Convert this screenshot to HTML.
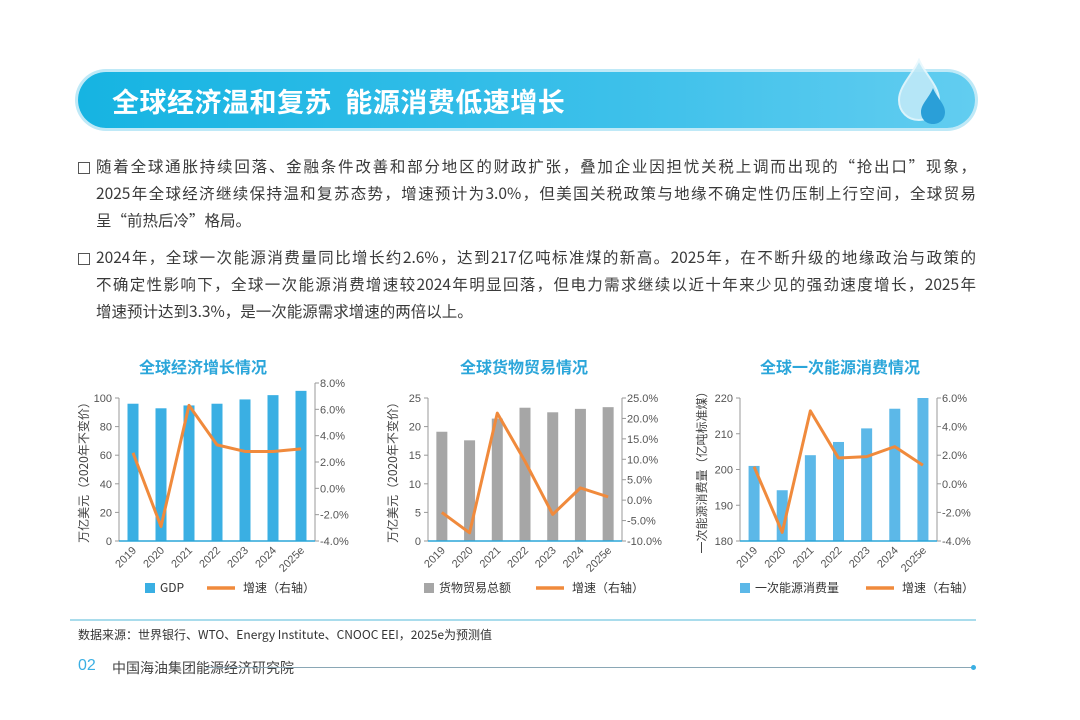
<!DOCTYPE html>
<html><head><meta charset="utf-8">
<style>
body{margin:0;background:#fff;}
#page{position:relative;width:1080px;height:720px;overflow:hidden;background:#fff;font-family:"Liberation Sans","Noto Sans CJK SC",sans-serif;}
.banner{position:absolute;left:78px;top:72px;width:897px;height:56px;border-radius:28px;background:linear-gradient(90deg,#16b4e2,#3cc0ea 60%,#62cdf0);box-shadow:0 0 0 3px #bfe9f7;}
.banner-title{position:absolute;left:112px;top:81px;font-size:27px;font-weight:bold;color:#fff;letter-spacing:0.5px;font-family:"Noto Sans CJK SC",sans-serif;}
.para{position:absolute;left:96px;width:880px;font-size:15.5px;color:#3a3a3a;font-family:"Noto Sans CJK SC",sans-serif;}
.line{display:block;height:27px;line-height:27px;white-space:nowrap;}
.j{text-align:justify;text-align-last:justify;white-space:normal;overflow:hidden;}
.box{position:absolute;left:78px;width:10px;height:10px;border:1px solid #555;}
.src{position:absolute;left:78px;top:626px;font-size:12px;color:#333;font-family:"Noto Sans CJK SC",sans-serif;}
.pg{position:absolute;left:78px;top:657px;font-size:16px;color:#3aafe3;}
.org{position:absolute;left:112px;top:658px;font-size:14px;color:#444;font-family:"Noto Sans CJK SC",sans-serif;}
</style></head><body>
<div id="page">
<div class="banner"></div>
<div class="banner-title">全球经济温和复苏&nbsp;&nbsp;能源消费低速增长</div>
<svg style="position:absolute;left:895px;top:58px" width="60" height="68">
<path d="M24 2 C30 16 44 28 44 42 C44 54 35 62 24 62 C13 62 4 54 4 42 C4 28 18 16 24 2Z" fill="#bfe9f8" stroke="#e8f8fd" stroke-width="2" opacity="0.9"/>
<path d="M38 30 C42 40 50 46 50 54 C50 61 45 66 38 66 C31 66 26 61 26 54 C26 46 34 40 38 30Z" fill="#2a9fd8"/>
</svg>

<div class="box" style="top:162px"></div>
<div class="para" style="top:153px">
<span class="line j">随着全球通胀持续回落、金融条件改善和部分地区的财政扩张，叠加企业因担忧关税上调而出现的“抢出口”现象，</span>
<span class="line j">2025年全球经济继续保持温和复苏态势，增速预计为3.0%，但美国关税政策与地缘不确定性仍压制上行空间，全球贸易</span>
<span class="line">呈“前热后冷”格局。</span>
</div>
<div class="box" style="top:253px"></div>
<div class="para" style="top:244px">
<span class="line j">2024年，全球一次能源消费量同比增长约2.6%，达到217亿吨标准煤的新高。2025年，在不断升级的地缘政治与政策的</span>
<span class="line j">不确定性影响下，全球一次能源消费增速较2024年明显回落，但电力需求继续以近十年来少见的强劲速度增长，2025年</span>
<span class="line">增速预计达到3.3%，是一次能源需求增速的两倍以上。</span>
</div>

<svg id="charts" style="position:absolute;left:0;top:0" width="1080" height="720"></svg>

<div style="position:absolute;left:70px;top:619px;width:906px;height:2px;background:#a9dcec"></div>
<div class="src">数据来源：世界银行、WTO、Energy Institute、CNOOC EEI，2025e为预测值</div>
<div class="pg">02</div>
<div class="org">中国海油集团能源经济研究院</div>
<div style="position:absolute;left:206px;top:667px;width:766px;height:1px;background:#8aa7b5"></div>
<div style="position:absolute;left:971px;top:665px;width:5px;height:5px;border-radius:50%;background:#3aafe3"></div>
</div>
<script>
const years = ["2019","2020","2021","2022","2023","2024","2025e"];
const gdpValues = [96, 92.8, 94.8, 96, 99, 102, 105];
const gdpGrowth = [2.7, -2.9, 6.3, 3.3, 2.8, 2.8, 3.0];
const tradeValues = [19.1, 17.6, 21.4, 23.3, 22.5, 23.1, 23.4];
const tradeGrowth = [-3.0, -8.0, 21.3, 9.5, -3.5, 3.0, 0.8];
const energyValues = [201, 194.2, 204, 207.7, 211.5, 217, 220];
const energyGrowth = [1.2, -3.4, 5.1, 1.8, 1.9, 2.6, 1.3];
const gdpLeftTicks = [0,20,40,60,80,100];
const gdpRightTicks = [-4,-2,0,2,4,6,8];
const tradeLeftTicks = [0,5,10,15,20,25];
const tradeRightTicks = [-10,-5,0,5,10,15,20,25];
const energyLeftTicks = [180,190,200,210,220];
const energyRightTicks = [-4,-2,0,2,4,6];

const NS="http://www.w3.org/2000/svg";
const svg=document.getElementById('charts');
function mk(tag,attrs,parent){const e=document.createElementNS(NS,tag);for(const k in attrs)e.setAttribute(k,attrs[k]);(parent||svg).appendChild(e);return e;}

function chart(cfg){
  const g=mk('g',{});
  
  
  const {x0,x1,yBottom,cats,vals,growth,lmin,lmax,ltop,rmin,rmax,rtop}=cfg;
  const yL=v=>yBottom-(v-lmin)/(lmax-lmin)*(yBottom-ltop);
  const yR=v=>yBottom-(v-rmin)/(rmax-rmin)*(yBottom-rtop);
  const step=(x1-x0)/cats.length;
  const xC=i=>x0+step*(i+0.5);
  // title
  const t=mk('text',{x:cfg.tx,y:373,'text-anchor':'middle','font-size':16,'font-weight':'bold',fill:'#2ba6da','font-family':'Noto Sans CJK SC, sans-serif'},g);t.textContent=cfg.title;
  
  // bars
  vals.forEach((v,i)=>{const b=mk('rect',{x:xC(i)-5.5,y:yL(v),width:11,height:yBottom-yL(v),fill:cfg.barColor},g);
    });
  // axes
  const la=mk('line',{x1:x0,x2:x0,y1:ltop,y2:yBottom,stroke:'#999','stroke-width':1},g);
  
  const ra=mk('line',{x1:x1,x2:x1,y1:rtop,y2:yBottom,stroke:'#999','stroke-width':1},g);
  
  const xa=mk('line',{x1:x0,x2:x1,y1:yBottom,y2:yBottom,stroke:'#2aa5d8','stroke-width':1.5},g);
  
  cfg.lticks.forEach(v=>{mk('line',{x1:x0-4,x2:x0,y1:yL(v),y2:yL(v),stroke:'#999'},g);
    const tt=mk('text',{x:x0-7,y:yL(v)+4,'text-anchor':'end','font-size':11,fill:'#555'},g);tt.textContent=v;
    });
  cfg.rticks.forEach(v=>{mk('line',{x1:x1,x2:x1+4,y1:yR(v),y2:yR(v),stroke:'#999'},g);
    const tt=mk('text',{x:x1+5,y:yR(v)+4,'font-size':11,fill:'#555'},g);tt.textContent=v.toFixed(1)+'%';
    });
  cats.forEach((c,i)=>{const tt=mk('text',{x:xC(i)+4,y:yBottom+10,'text-anchor':'end','font-size':11,fill:'#555',transform:`rotate(-45 ${xC(i)+4} ${yBottom+10})`},g);tt.textContent=c;
    });
  // line
  const pts=growth.map((v,i)=>xC(i)+','+yR(v)).join(' ');
  const pl=mk('polyline',{points:pts,fill:'none',stroke:'#f08a3c','stroke-width':3,'stroke-linejoin':'round'},g);
  
  // y title
  const yt=mk('text',{x:cfg.ytx,y:(ltop+yBottom)/2,'text-anchor':'middle','font-size':12,fill:'#444','font-family':'Noto Sans CJK SC, sans-serif',transform:`rotate(-90 ${cfg.ytx} ${(ltop+yBottom)/2})`},g);yt.textContent=cfg.ytitle;
  
  // legend
  const lg=mk('g',{},g);
  mk('rect',{x:cfg.lx,y:583,width:10,height:10,fill:cfg.barColor},lg);
  const l1=mk('text',{x:cfg.lx+15,y:592,'font-size':12,fill:'#333','font-family':'Noto Sans CJK SC, sans-serif'},lg);l1.textContent=cfg.legend;
  mk('line',{x1:cfg.lx2,x2:cfg.lx2+28,y1:588,y2:588,stroke:'#f08a3c','stroke-width':3.5},lg);
  const l2=mk('text',{x:cfg.lx2+36,y:592,'font-size':12,fill:'#333','font-family':'Noto Sans CJK SC, sans-serif'},lg);l2.textContent='增速（右轴）';
}
chart({name:'gdp-chart',title:'全球经济增长情况',tx:203,x0:119,x1:315,yBottom:541,cats:years,vals:gdpValues,growth:gdpGrowth,lmin:0,lmax:100,ltop:398,rmin:-4,rmax:8,rtop:383,lticks:gdpLeftTicks,rticks:gdpRightTicks,barColor:'#3aafe3',ytitle:'万亿美元（2020年不变价）',ytx:88,legend:'GDP',lx:145,lx2:207});
chart({name:'trade-chart',title:'全球货物贸易情况',tx:524,x0:428,x1:622,yBottom:541,cats:years,vals:tradeValues,growth:tradeGrowth,lmin:0,lmax:25,ltop:398,rmin:-10,rmax:25,rtop:398,lticks:tradeLeftTicks,rticks:tradeRightTicks,barColor:'#a6a6a6',ytitle:'万亿美元（2020年不变价）',ytx:397,legend:'货物贸易总额',lx:424,lx2:536});
chart({name:'energy-chart',title:'全球一次能源消费情况',tx:840,x0:740,x1:937,yBottom:541,cats:years,vals:energyValues,growth:energyGrowth,lmin:180,lmax:220,ltop:398,rmin:-4,rmax:6,rtop:398,lticks:energyLeftTicks,rticks:energyRightTicks,barColor:'#5cb8e8',ytitle:'一次能源消费量（亿吨标准煤）',ytx:706,legend:'一次能源消费量',lx:740,lx2:866});
</script>
</body></html>
